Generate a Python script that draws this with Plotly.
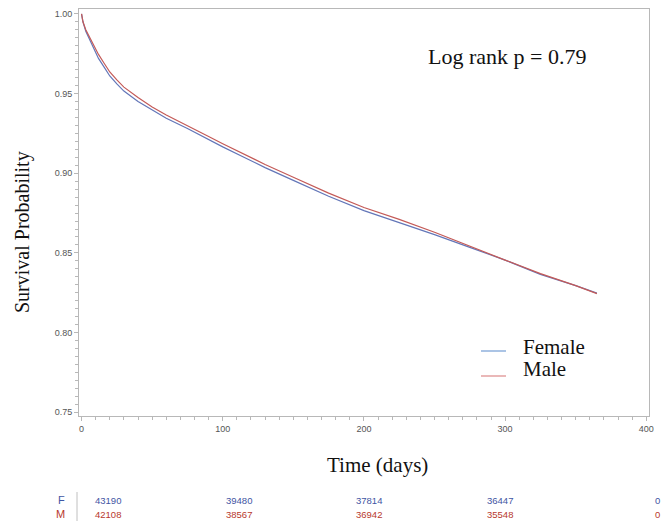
import plotly.graph_objects as go

# ---- data ----
time_days = [0, 1, 3, 5, 8, 12, 16, 20, 25, 30, 40, 50, 60, 75, 90, 100, 115, 130,
             150, 175, 200, 225, 250, 275, 300, 325, 350, 365]
surv_female = [1.0, 0.995, 0.989, 0.985, 0.979, 0.972, 0.9665, 0.961, 0.956, 0.9515,
               0.945, 0.9395, 0.9345, 0.928, 0.921, 0.9165, 0.910, 0.9035, 0.8955,
               0.8855, 0.8765, 0.869, 0.8615, 0.8535, 0.8455, 0.8365, 0.8295, 0.8248]
surv_male = [1.0, 0.995, 0.990, 0.9865, 0.981, 0.9745, 0.969, 0.9635, 0.9585, 0.954,
             0.9475, 0.9415, 0.9365, 0.930, 0.923, 0.9185, 0.912, 0.9055, 0.8975,
             0.8875, 0.8785, 0.871, 0.863, 0.854, 0.8455, 0.837, 0.8295, 0.8245]
group_labels = ["Female", "Male"]
risk_groups = ["F", "M"]
risk_female = [43190, 39480, 37814, 36447, 0]
risk_male = [42108, 38567, 36942, 35548, 0]
p_text = "Log rank p = 0.79"

# ---- styles ----
line_cols = ["#6376b8", "#c45a57"]
legend_cols = ["#8fb0dc", "#e3a0a0"]
table_cols = ["#3f55a3", "#b7382d"]
serif = "Liberation Serif"
W, H = 662, 524
L, R, T, B = 79, 13, 9, 108

fig = go.Figure()
for name, s, c in zip(group_labels, [surv_female, surv_male], line_cols):
    fig.add_trace(go.Scatter(x=time_days, y=s, mode="lines", name=name,
                             line=dict(color=c, width=1.2), showlegend=False))

axis_common = dict(showline=True, linecolor="#b8b8b8", linewidth=1, mirror=True,
                   showgrid=False, zeroline=False, ticks="outside", ticklen=4,
                   tickcolor="#b8b8b8",
                   tickfont=dict(family="Liberation Sans", size=9, color="#555555"))
fig.update_xaxes(range=[-1.8, 401.9], tick0=0, dtick=100,
                 minor=dict(dtick=10, ticks="outside", ticklen=3, tickcolor="#b8b8b8"),
                 **axis_common)
fig.update_yaxes(range=[0.7477, 1.003], tick0=0.75, dtick=0.05, tickformat=".2f",
                 minor=dict(dtick=0.005, ticks="outside", ticklen=3, tickcolor="#b8b8b8"),
                 **axis_common)

def px_x(p):
    return (p - L) / (W - L - R)

def px_y(p):
    return 1 - (p - T) / (H - T - B)

ann = []
ann.append(dict(text="Survival Probability", x=px_x(22), y=px_y(232), textangle=-90,
                font=dict(family=serif, size=20, color="#111111")))
ann.append(dict(text="Time (days)", x=px_x(377), y=px_y(465),
                font=dict(family=serif, size=21, color="#111111")))
ann.append(dict(text=p_text, x=px_x(507), y=px_y(57),
                font=dict(family=serif, size=22, color="#111111")))
col_px = [93, 224, 354, 485, 653]
row_px = [500, 514]
for g, vals, c, ry in zip(risk_groups, [risk_female, risk_male], table_cols, row_px):
    ann.append(dict(text=g, x=px_x(67), y=px_y(ry), xanchor="right",
                    font=dict(family="Liberation Sans", size=11, color=c)))
    for v, cx in zip(vals, col_px):
        ann.append(dict(text=str(v), x=px_x(cx), y=px_y(ry), xanchor="left",
                        font=dict(family="Liberation Sans", size=9.5, color=c)))

# manual legend
shapes = [dict(type="line", xref="paper", yref="paper",
               x0=px_x(77), x1=px_x(77), y0=px_y(492), y1=px_y(521),
               line=dict(color="#c0c0c0", width=1))]
leg_text_y = [347, 369]
leg_line_y = [351, 376]
for name, c, ty, ly in zip(group_labels, legend_cols, leg_text_y, leg_line_y):
    ann.append(dict(text=name, x=px_x(521), y=px_y(ty), xanchor="left",
                    font=dict(family=serif, size=21, color="#111111")))
    shapes.append(dict(type="line", xref="paper", yref="paper",
                       x0=px_x(481), x1=px_x(506), y0=px_y(ly), y1=px_y(ly),
                       line=dict(color=c, width=1.5)))

for a in ann:
    a.update(xref="paper", yref="paper", showarrow=False)
    a.setdefault("xanchor", "center")
    a.setdefault("yanchor", "middle")

fig.update_layout(
    width=W, height=H, margin=dict(l=L, r=R, t=T, b=B),
    paper_bgcolor="white", plot_bgcolor="white",
    annotations=ann, shapes=shapes, showlegend=False,
)
fig.write_html("out.html")
